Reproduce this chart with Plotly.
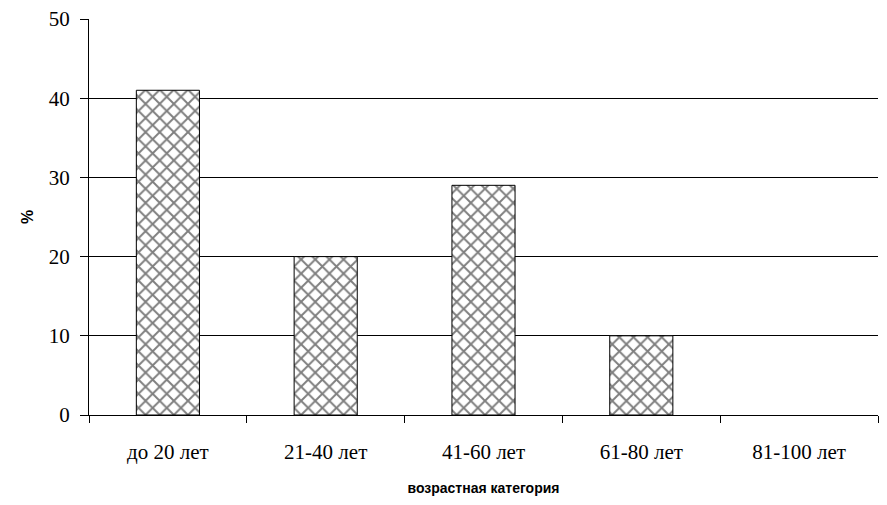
import plotly.graph_objects as go

categories = ["до 20 лет", "21-40 лет", "41-60 лет", "61-80 лет", "81-100 лет"]
values = [41, 20, 29, 10, 0]
y_ticks = [0, 10, 20, 30, 40, 50]

outline_widths = [1 if v > 0 else 0 for v in values]

fig = go.Figure()
fig.add_trace(go.Bar(
    x=categories,
    y=values,
    width=0.4,
    marker=dict(
        color="white",
        line=dict(color="black", width=outline_widths),
        pattern=dict(shape="x", fgcolor="black", bgcolor="white", size=10, solidity=0.35),
    ),
))

serif = "Times New Roman, Liberation Serif, serif"
sans = "Arial, Liberation Sans, sans-serif"

fig.update_layout(
    width=887, height=505,
    margin=dict(l=89, r=9, t=19, b=90),
    paper_bgcolor="white", plot_bgcolor="white",
    showlegend=False,
    bargap=0.6,
)
fig.update_xaxes(
    type="category",
    automargin=False,
    tickson="boundaries",
    ticks="outside", ticklen=7, tickcolor="black", tickwidth=1,
    ticklabelstandoff=18,
    showline=True, linecolor="black", linewidth=1,
    showgrid=False,
    tickfont=dict(family=serif, size=21, color="black"),
    title=dict(text="<b>возрастная категория</b>", font=dict(family=sans, size=14, color="black"), standoff=19),
)
fig.update_yaxes(
    range=[0, 50],
    automargin=False,
    tickvals=y_ticks,
    ticks="outside", ticklen=8, tickcolor="black", tickwidth=1,
    ticklabelstandoff=6,
    showline=True, linecolor="black", linewidth=1,
    showgrid=True, gridcolor="black", gridwidth=1,
    zeroline=False,
    tickfont=dict(family=serif, size=21, color="black"),
    title=dict(text="<b>%</b>", font=dict(family=sans, size=16, color="black"), standoff=11),
)

fig.write_html("out.html", config={"displayModeBar": False},
               post_script="document.body.style.margin='0';")
